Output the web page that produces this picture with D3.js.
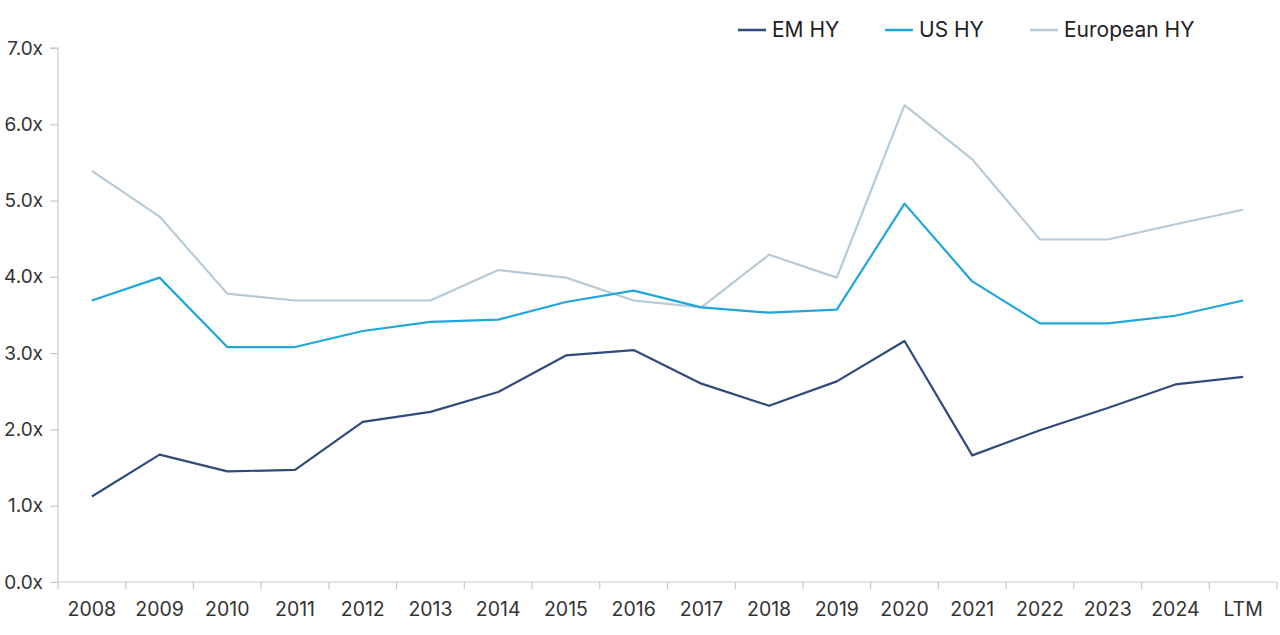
<!DOCTYPE html>
<html><head><meta charset="utf-8">
<script src="https://cdn.jsdelivr.net/npm/d3@7"></script>
<style>
body{margin:0;background:#fff;}
svg{display:block;font-family:Inter,"Noto Sans",sans-serif;}
</style></head>
<body><svg id="c" width="1280" height="635"></svg>
<script>
const categories = ["2008","2009","2010","2011","2012","2013","2014","2015","2016","2017","2018","2019","2020","2021","2022","2023","2024","LTM"];
const emHY = [1.12,1.67,1.45,1.47,2.10,2.23,2.49,2.97,3.04,2.60,2.31,2.63,3.16,1.66,1.99,2.28,2.59,2.69];
const usHY = [3.69,3.99,3.08,3.08,3.29,3.41,3.44,3.67,3.82,3.60,3.53,3.57,4.96,3.94,3.39,3.39,3.49,3.69];
const euHY = [5.39,4.79,3.78,3.69,3.69,3.69,4.09,3.99,3.69,3.60,4.29,3.99,6.25,5.54,4.49,4.49,4.69,4.88];
const yTicks = [0,1,2,3,4,5,6,7];
const seriesNames = ["EM HY","US HY","European HY"];
const colors = ["#2f4a7c","#1fa6dc","#b7cad7"];

(function(){
const svg = d3.select("#c");
const mL = 58, mR = 1277, mT = 48, mB = 582;
const x = d3.scaleBand().domain(categories).range([mL, mR]);
const y = d3.scaleLinear().domain([0,7]).range([mB, mT]);

// y axis
const ya = svg.append("g").attr("transform",`translate(${mL},0)`)
  .call(d3.axisLeft(y).tickValues(yTicks).tickSize(8).tickPadding(7).tickFormat(d => d3.format(".1f")(d)+"x"));
ya.select(".domain").attr("stroke","#c9c9c9").attr("stroke-width",1.2).attr("d",`M-8,${mT}H0V${mB}`);
ya.selectAll(".tick line").attr("stroke","#c9c9c9").attr("stroke-width",1.2);
ya.selectAll(".tick text").attr("fill","#333").style("font-size","19px").style("font-family","Inter,sans-serif");

// x axis
const xa = svg.append("g").attr("transform",`translate(0,${mB})`)
  .call(d3.axisBottom(x).tickSize(0).tickPadding(20));
xa.select(".domain").attr("stroke","#c9c9c9").attr("stroke-width",1.2).attr("d",`M${mL},0H${mR}`);
xa.selectAll(".tick text").attr("fill","#333").style("font-size","19.5px").style("font-family","Inter,sans-serif");
const bounds = categories.map(c => x(c)).concat([mR]);
xa.selectAll(".btick").data(bounds).enter().append("line")
  .attr("x1",d=>d).attr("x2",d=>d).attr("y1",0).attr("y2",7)
  .attr("stroke","#c9c9c9").attr("stroke-width",1.2);

const line = d3.line().x((d,i)=>x(categories[i]) + x.bandwidth()/2).y(d=>y(d));
const data = [euHY, usHY, emHY];
const cols = [colors[2], colors[1], colors[0]];
data.forEach((s,k)=>{
  svg.append("path").datum(s).attr("d",line).attr("fill","none")
    .attr("stroke",cols[k]).attr("stroke-width",2.2).attr("stroke-linejoin","round");
});

// legend
const legX = [738, 885, 1030];
seriesNames.forEach((n,i)=>{
  const g = svg.append("g").attr("transform",`translate(${legX[i]},30)`);
  g.append("line").attr("x1",0).attr("x2",28).attr("y1",0).attr("y2",0).attr("stroke",colors[i]).attr("stroke-width",2.5);
  g.append("text").attr("x",34).attr("y",7).text(n).attr("fill","#222").style("font-size","21px");
});
})();
</script></body></html>
